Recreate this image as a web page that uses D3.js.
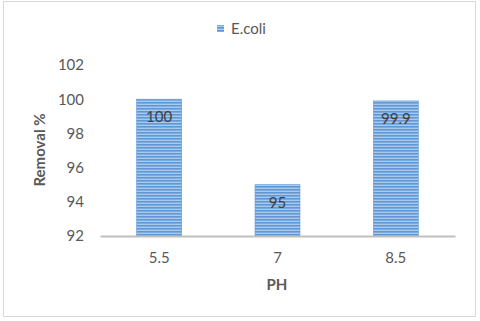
<!DOCTYPE html>
<html>
<head>
<meta charset="utf-8">
<script src="https://cdn.jsdelivr.net/npm/d3@7"></script>
<style>
  body { margin: 0; background: #fff; }
  text { font-family: Lato, "Open Sans", sans-serif; }
</style>
</head>
<body>
<div id="chart"></div>
<script>
// Data
const categories = ["5.5", "7", "8.5"];
const removal = [100, 95, 99.9];
const labels = ["100", "95", "99.9"];
const yTicks = [92, 94, 96, 98, 100, 102];
const seriesName = "E.coli";

let width = 480, height = 321;

let svg = d3.select("#chart")
            .append("svg")
            .attr("width", width)
            .attr("height", height);

// Striped fill like the Excel pattern
let defs = svg.append("defs");
let pattern = defs.append("pattern")
                  .attr("id", "stripes")
                  .attr("patternUnits", "userSpaceOnUse")
                  .attr("width", 4)
                  .attr("height", 3);
pattern.append("rect")
       .attr("width", 4).attr("height", 3)
       .attr("fill", "#a9c9ee");
pattern.append("rect")
       .attr("width", 4).attr("height", 1.6)
       .attr("fill", "#5e98d6");

// Chart border
svg.append("rect")
   .attr("x", 3.5).attr("y", 1.5)
   .attr("width", 472).attr("height", 315)
   .attr("fill", "white")
   .attr("stroke", "#d9d9d9")
   .attr("stroke-width", 1);

// Scales
let x = d3.scaleBand()
          .domain(categories)
          .range([100, 455])
          .paddingInner(0.62)
          .paddingOuter(0.31);

let y = d3.scaleLinear()
          .domain([92, 102])
          .range([236, 65]);

// Y axis tick labels
let yAxis = svg.append("g")
   .attr("transform", "translate(84,0)")
   .call(d3.axisLeft(y).tickValues(yTicks).tickSize(0).tickPadding(0).tickFormat(d3.format("d")));
yAxis.select(".domain").remove();
yAxis.selectAll("text")
     .style("font-family", "Lato, 'Open Sans', sans-serif")
     .style("font-size", "15px")
     .attr("fill", "#595959");

// Bars
svg.selectAll(".bar")
   .data(categories)
   .enter()
   .append("rect")
   .attr("class", "bar")
   .attr("x", d => x(d))
   .attr("y", (d, i) => y(removal[i]))
   .attr("width", x.bandwidth())
   .attr("height", (d, i) => y(92) - y(removal[i]))
   .attr("fill", "url(#stripes)")
   .attr("stroke", "#5e98d6")
   .attr("stroke-width", 0.6);

// Value labels (inside end)
svg.selectAll(".lbl")
   .data(categories)
   .enter()
   .append("text")
   .attr("class", "lbl")
   .attr("x", d => x(d) + x.bandwidth() / 2)
   .attr("y", (d, i) => y(removal[i]) + 23)
   .attr("text-anchor", "middle")
   .attr("fill", "#404040")
   .style("font-size", "15px")
   .text((d, i) => labels[i]);

// X axis baseline
let xAxis = svg.append("g")
   .attr("transform", `translate(0, ${y(92)})`)
   .call(d3.axisBottom(x).tickSize(0).tickPadding(16));
xAxis.select(".domain")
     .attr("stroke", "#bfbfbf")
     .attr("stroke-width", 2);
xAxis.selectAll("text")
     .style("font-family", "Lato, 'Open Sans', sans-serif")
     .style("font-size", "15px")
     .attr("fill", "#595959");

// X axis title
svg.append("text")
   .attr("x", 277)
   .attr("y", 290)
   .attr("text-anchor", "middle")
   .attr("fill", "#595959")
   .style("font-size", "15px")
   .style("font-weight", "bold")
   .text("PH");

// Y axis title
svg.append("text")
   .attr("transform", "rotate(-90)")
   .attr("x", -150)
   .attr("y", 45)
   .attr("text-anchor", "middle")
   .attr("fill", "#595959")
   .style("font-size", "15px")
   .style("font-weight", "bold")
   .text("Removal %");

// Legend
svg.append("rect")
   .attr("x", 217).attr("y", 25)
   .attr("width", 7).attr("height", 7)
   .attr("fill", "url(#stripes)");
svg.append("text")
   .attr("x", 231)
   .attr("y", 34)
   .attr("fill", "#595959")
   .style("font-size", "15px")
   .text(seriesName);
</script>
</body>
</html>
